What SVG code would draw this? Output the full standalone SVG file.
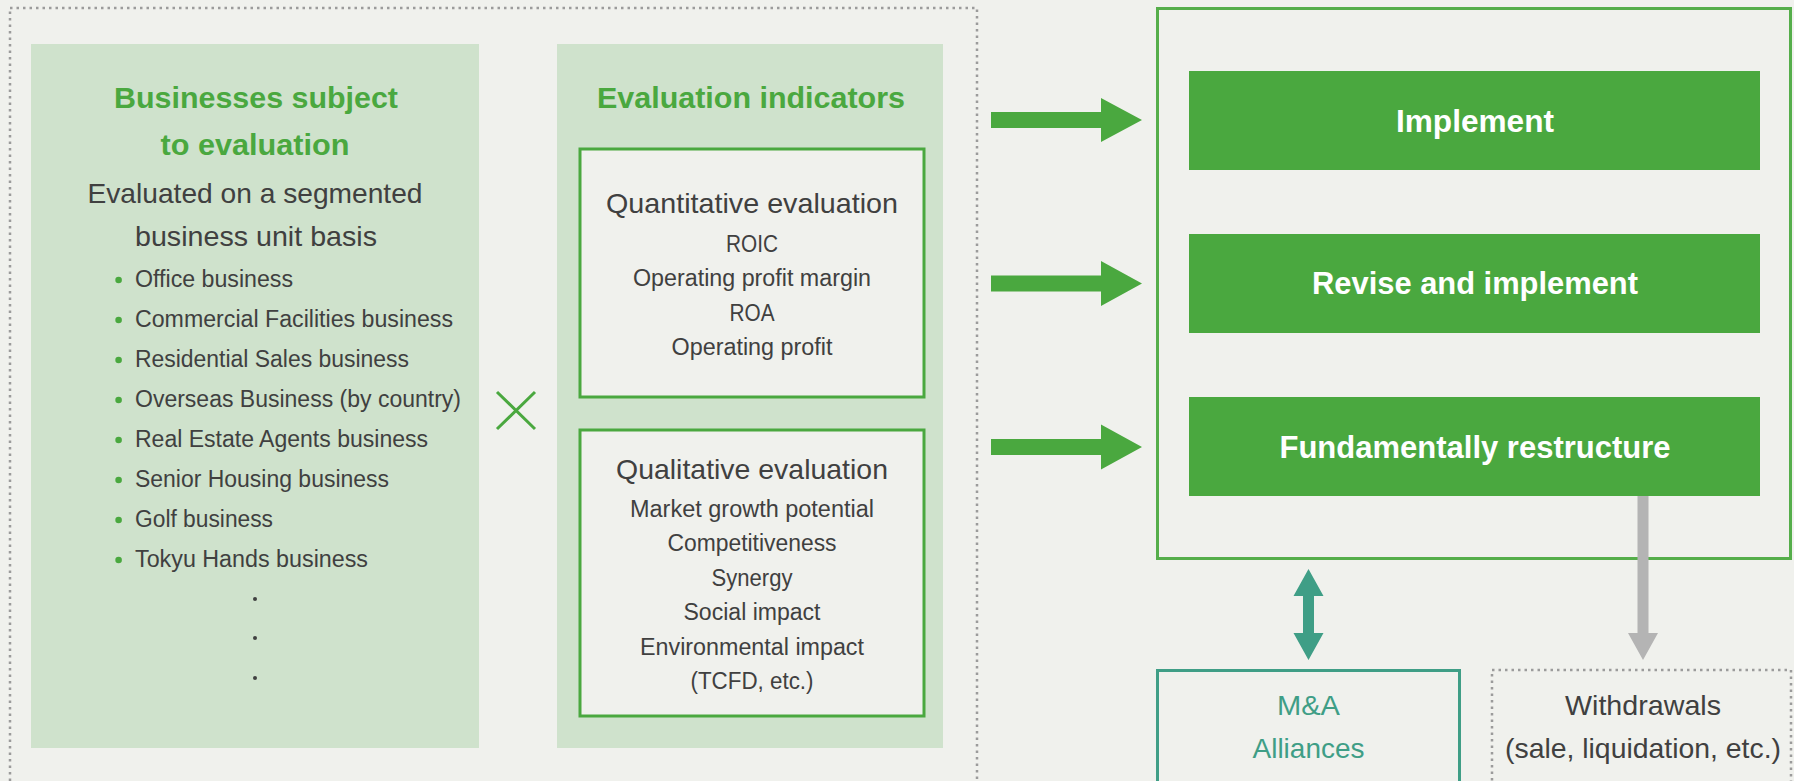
<svg xmlns="http://www.w3.org/2000/svg" width="1794" height="781" viewBox="0 0 1794 781">
<defs>
<style>
.bg{fill:#f0f1ed}
.panel{fill:#cfe2cc}
.gbox{fill:#f0f1ed;stroke:#4aa83f;stroke-width:3}
.dot{fill:none;stroke:#9b9b9b;stroke-width:2.5;stroke-dasharray:2.5 4}
.t{font-family:"Liberation Sans",Arial,sans-serif;fill:#404040}
.ttl{font-family:"Liberation Sans",Arial,sans-serif;fill:#4aa83f;font-weight:bold;font-size:30px}
.mid{text-anchor:middle}
.b{font-size:23px}
.w{font-family:"Liberation Sans",Arial,sans-serif;fill:#ffffff;font-weight:bold;font-size:31px;text-anchor:middle}
.tl{font-family:"Liberation Sans",Arial,sans-serif;fill:#3f9e86;font-size:28px;text-anchor:middle}
.gf{fill:#4aa83f}
.teal{fill:#3f9e86}
</style>
</defs>
<rect class="bg" x="0" y="0" width="1794" height="781"/>

<rect id="outer-frame" class="dot" x="10" y="8" width="967" height="778"/>

<g id="businesses">
<rect class="panel" x="31" y="44" width="448" height="704"/>
<text class="ttl mid" x="256" y="108" textLength="284" lengthAdjust="spacingAndGlyphs">Businesses subject</text>
<text class="ttl mid" x="255" y="155" textLength="189" lengthAdjust="spacingAndGlyphs">to evaluation</text>
<text class="t mid" x="255" y="203" font-size="28" textLength="335" lengthAdjust="spacingAndGlyphs">Evaluated on a segmented</text>
<text class="t mid" x="256" y="246" font-size="28" textLength="242" lengthAdjust="spacingAndGlyphs">business unit basis</text>
<g fill="#4aa83f">
<circle cx="118.6" cy="280" r="3.3"/>
<circle cx="118.6" cy="320" r="3.3"/>
<circle cx="118.6" cy="360" r="3.3"/>
<circle cx="118.6" cy="400" r="3.3"/>
<circle cx="118.6" cy="440" r="3.3"/>
<circle cx="118.6" cy="480" r="3.3"/>
<circle cx="118.6" cy="520" r="3.3"/>
<circle cx="118.6" cy="560" r="3.3"/>
</g>
<text class="t b" x="135" y="287" textLength="158" lengthAdjust="spacingAndGlyphs">Office business</text>
<text class="t b" x="135" y="327" textLength="318" lengthAdjust="spacingAndGlyphs">Commercial Facilities business</text>
<text class="t b" x="135" y="367" textLength="274" lengthAdjust="spacingAndGlyphs">Residential Sales business</text>
<text class="t b" x="135" y="407" textLength="326" lengthAdjust="spacingAndGlyphs">Overseas Business (by country)</text>
<text class="t b" x="135" y="447" textLength="293" lengthAdjust="spacingAndGlyphs">Real Estate Agents business</text>
<text class="t b" x="135" y="487" textLength="254" lengthAdjust="spacingAndGlyphs">Senior Housing business</text>
<text class="t b" x="135" y="527" textLength="138" lengthAdjust="spacingAndGlyphs">Golf business</text>
<text class="t b" x="135" y="567" textLength="233" lengthAdjust="spacingAndGlyphs">Tokyu Hands business</text>
<g fill="#404040">
<circle cx="255" cy="599" r="2"/>
<circle cx="255" cy="638" r="2"/>
<circle cx="255" cy="678" r="2"/>
</g>
</g>

<g id="times">
<path d="M497 392 L535 429 M535 392 L497 429" stroke="#4aa83f" stroke-width="3" fill="none"/>
</g>

<g id="indicators">
<rect class="panel" x="557" y="44" width="386" height="704"/>
<text class="ttl mid" x="751" y="108" textLength="308" lengthAdjust="spacingAndGlyphs">Evaluation indicators</text>
</g>

<g id="quantitative">
<rect class="gbox" x="580" y="149" width="344" height="248"/>
<text class="t mid" x="752" y="213" font-size="28" textLength="292" lengthAdjust="spacingAndGlyphs">Quantitative evaluation</text>
<text class="t mid b" x="752" y="251.5" textLength="52" lengthAdjust="spacingAndGlyphs">ROIC</text>
<text class="t mid b" x="752" y="286" textLength="238" lengthAdjust="spacingAndGlyphs">Operating profit margin</text>
<text class="t mid b" x="752" y="320.5" textLength="45" lengthAdjust="spacingAndGlyphs">ROA</text>
<text class="t mid b" x="752" y="355" textLength="161" lengthAdjust="spacingAndGlyphs">Operating profit</text>
</g>

<g id="qualitative">
<rect class="gbox" x="580" y="430" width="344" height="286"/>
<text class="t mid" x="752" y="479" font-size="28" textLength="272" lengthAdjust="spacingAndGlyphs">Qualitative evaluation</text>
<text class="t mid b" x="752" y="517" textLength="244" lengthAdjust="spacingAndGlyphs">Market growth potential</text>
<text class="t mid b" x="752" y="551" textLength="169" lengthAdjust="spacingAndGlyphs">Competitiveness</text>
<text class="t mid b" x="752" y="586" textLength="81" lengthAdjust="spacingAndGlyphs">Synergy</text>
<text class="t mid b" x="752" y="620" textLength="137" lengthAdjust="spacingAndGlyphs">Social impact</text>
<text class="t mid b" x="752" y="655" textLength="224" lengthAdjust="spacingAndGlyphs">Environmental impact</text>
<text class="t mid b" x="752" y="689" textLength="123" lengthAdjust="spacingAndGlyphs">(TCFD, etc.)</text>
</g>

<g id="outcomes-frame">
<rect x="1157.5" y="8.5" width="633" height="550" fill="none" stroke="#55ae4a" stroke-width="3"/>
</g>

<g id="implement">
<rect class="gf" x="1189" y="71" width="571" height="99"/>
<text class="w" x="1475" y="132" textLength="158" lengthAdjust="spacingAndGlyphs">Implement</text>
</g>
<g id="revise">
<rect class="gf" x="1189" y="234" width="571" height="99"/>
<text class="w" x="1475" y="294" textLength="326" lengthAdjust="spacingAndGlyphs">Revise and implement</text>
</g>
<g id="restructure">
<rect class="gf" x="1189" y="397" width="571" height="99"/>
<text class="w" x="1475" y="458" textLength="391" lengthAdjust="spacingAndGlyphs">Fundamentally restructure</text>
</g>

<g id="ma">
<rect x="1157.5" y="670.5" width="302" height="130" fill="none" stroke="#3f9e86" stroke-width="3"/>
<text class="tl" x="1308.5" y="715" textLength="63" lengthAdjust="spacingAndGlyphs">M&amp;A</text>
<text class="tl" x="1308.5" y="758" textLength="112" lengthAdjust="spacingAndGlyphs">Alliances</text>
</g>

<g id="withdrawals">
<rect class="dot" x="1492" y="670" width="299" height="130"/>
<text class="t mid" x="1643" y="715" font-size="28" textLength="156" lengthAdjust="spacingAndGlyphs">Withdrawals</text>
<text class="t mid" x="1643" y="758" font-size="28" textLength="276" lengthAdjust="spacingAndGlyphs">(sale, liquidation, etc.)</text>
</g>

<g id="connectors">
<polygon class="gf" points="991,112 1101,112 1101,98 1142,120 1101,142 1101,128 991,128"/>
<polygon class="gf" points="991,275.5 1101,275.5 1101,261 1142,283.5 1101,306 1101,291.5 991,291.5"/>
<polygon class="gf" points="991,439 1101,439 1101,424.5 1142,447 1101,469.5 1101,455 991,455"/>
<polygon class="teal" points="1308.5,569 1323.5,596 1314,596 1314,633 1323.5,633 1308.5,660 1293.5,633 1303,633 1303,596 1293.5,596"/>
<polygon fill="#b4b4b4" points="1637.5,496 1648.5,496 1648.5,633 1658,633 1643,660 1628,633 1637.5,633"/>
</g>
</svg>
